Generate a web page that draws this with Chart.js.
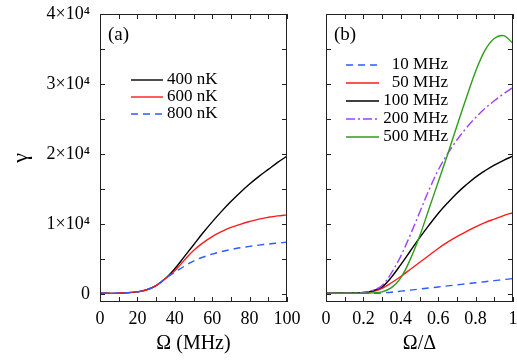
<!DOCTYPE html>
<html>
<head>
<meta charset="utf-8">
<script src="https://cdn.jsdelivr.net/npm/chart.js@4"></script>
<style>
  html, body { margin: 0; padding: 0; background: #fff; }
  #wrap { position: relative; width: 517px; height: 360px; }
  #chartA { position: absolute; left: 0; top: 0; }
  #chartB { position: absolute; left: 290px; top: 0; }
</style>
</head>
<body>
<div id="wrap">
  <canvas id="chartA" width="310" height="360"></canvas>
  <canvas id="chartB" width="227" height="360"></canvas>
</div>
<script>
// panel (a): gamma vs Omega (MHz) for three temperatures
const omegaMHz = [0, 10, 20, 25, 30, 35, 40, 45, 50, 55, 60, 65, 70, 75, 80, 85, 90, 95, 100];
const gamma400nK = [100, 100, 300, 600, 1200, 2200, 3600, 5300, 7000, 8700, 10300, 11800, 13200, 14500, 15700, 16800, 17800, 18800, 19700];
const gamma600nK = [100, 100, 300, 600, 1200, 2200, 3300, 4800, 6200, 7300, 8200, 8900, 9500, 9950, 10350, 10700, 10950, 11150, 11300];
const gamma800nK = [100, 100, 300, 600, 1200, 2200, 3100, 3950, 4700, 5250, 5700, 6050, 6350, 6600, 6800, 6980, 7130, 7270, 7400];

// panel (b): gamma vs Omega/Delta for five detunings
const omegaRatio = [0, 0.1, 0.2, 0.25, 0.3, 0.35, 0.4, 0.45, 0.5, 0.55, 0.6, 0.65, 0.7, 0.75, 0.8, 0.85, 0.9, 0.95, 1.0];
const gamma10MHz = [100, 100, 100, 100, 150, 250, 400, 550, 700, 850, 1000, 1150, 1300, 1450, 1600, 1750, 1900, 2050, 2200];
const gamma50MHz = [100, 100, 150, 350, 800, 1600, 2500, 3500, 4500, 5500, 6500, 7400, 8200, 8900, 9600, 10200, 10700, 11200, 11600];
const gamma100MHz = [100, 100, 200, 450, 1000, 2400, 4200, 6100, 8000, 9800, 11500, 13000, 14400, 15600, 16700, 17600, 18400, 19100, 19700];
const gamma200MHz = [100, 100, 200, 500, 1200, 3000, 5400, 8400, 11600, 14800, 17700, 20000, 22000, 23700, 25200, 26500, 27600, 28600, 29500];
const gamma500MHz = [100, 100, 100, 150, 300, 900, 2300, 4900, 8200, 12100, 16000, 19900, 24000, 28000, 31800, 34800, 36500, 36900, 35800];

const yTickValues = [0, 10000, 20000, 30000, 40000];
const xTickValuesA = [0, 20, 40, 60, 80, 100];
const xTickValuesB = [0, 0.2, 0.4, 0.6, 0.8, 1];

const serif = '"Liberation Serif", "Times New Roman", serif';

function toPoints(xs, ys) {
  return xs.map((x, i) => ({ x: x, y: ys[i] }));
}

function line(label, xs, ys, color, dash, order) {
  return {
    label: label,
    data: toPoints(xs, ys),
    borderColor: color,
    borderWidth: 1.4,
    borderDash: dash,
    pointRadius: 0,
    fill: false,
    tension: 0.35,
    order: order
  };
}

// frame, inward ticks, panel tag and legend
const framePlugin = {
  id: 'frame',
  afterDraw(chart, args, opts) {
    const { ctx, chartArea: a, scales: { x, y } } = chart;
    ctx.save();
    ctx.strokeStyle = '#222';
    ctx.lineWidth = 1;
    ctx.setLineDash([]);
    ctx.strokeRect(a.left + 0.5, a.top + 0.5, a.right - a.left - 1, a.bottom - a.top - 1);
    ctx.beginPath();
    for (let i = 0; i <= 10; i++) {
      const v = opts.xMin + (opts.xMax - opts.xMin) * i / 10;
      const px = Math.round(x.getPixelForValue(v)) + 0.5;
      ctx.moveTo(px, a.bottom); ctx.lineTo(px, a.bottom - 5);
      ctx.moveTo(px, a.top); ctx.lineTo(px, a.top + 5);
    }
    for (let v = 0; v <= 40000; v += 5000) {
      const py = Math.round(y.getPixelForValue(v)) + 0.5;
      ctx.moveTo(a.left, py); ctx.lineTo(a.left + 5, py);
      ctx.moveTo(a.right, py); ctx.lineTo(a.right - 5, py);
    }
    ctx.stroke();

    ctx.fillStyle = '#000';
    ctx.font = '19px ' + serif;
    ctx.textBaseline = 'middle';
    ctx.textAlign = 'left';
    ctx.fillText(opts.tag, a.left + 8, a.top + 21);

    ctx.font = '17px ' + serif;
    chart.data.datasets.forEach((ds, i) => {
      const ly = a.top + opts.legendTop + i * opts.legendStep;
      ctx.strokeStyle = ds.borderColor;
      ctx.lineWidth = 1.4;
      ctx.setLineDash(ds.borderDash || []);
      ctx.beginPath();
      ctx.moveTo(a.left + opts.lineStart, ly);
      ctx.lineTo(a.left + opts.lineStart + opts.lineLen, ly);
      ctx.stroke();
      ctx.textAlign = opts.textAlign;
      ctx.fillText(ds.label, a.left + opts.textX, ly);
    });
    ctx.restore();
  }
};

function makeOptions(xMin, xMax, xTicks, xTitle, showY, yWidth, rightPad, tagOpts) {
  return {
    responsive: false,
    animation: false,
    devicePixelRatio: 1,
    layout: { padding: { top: 14, right: rightPad, left: 0, bottom: 0 } },
    plugins: {
      legend: { display: false },
      tooltip: { enabled: false },
      frame: Object.assign({ xMin: xMin, xMax: xMax }, tagOpts)
    },
    scales: {
      x: {
        type: 'linear',
        min: xMin,
        max: xMax,
        grid: { display: false, drawTicks: false },
        border: { display: false },
        afterBuildTicks: s => { s.ticks = xTicks.map(v => ({ value: v })); },
        afterFit: s => { s.height = 58; s.paddingLeft = 0; s.paddingRight = 0; },
        ticks: {
          padding: 6,
          maxRotation: 0,
          color: '#000',
          font: { family: serif, size: 18 },
          callback: v => String(v)
        },
        title: {
          display: true,
          text: xTitle,
          color: '#000',
          font: { family: serif, size: 20 },
          padding: { top: 4, bottom: 4 }
        }
      },
      y: {
        type: 'linear',
        min: -1150,
        max: 40000,
        grid: { display: false, drawTicks: false },
        border: { display: false },
        afterBuildTicks: s => { s.ticks = yTickValues.map(v => ({ value: v })); },
        afterFit: s => { s.width = yWidth; s.paddingTop = 0; s.paddingBottom = 0; },
        ticks: {
          display: showY,
          padding: 10,
          color: '#000',
          font: { family: serif, size: 18 },
          callback: v => v === 0 ? '0' : (v / 10000) + '×10⁴'
        },
        title: {
          display: showY,
          text: 'γ',
          color: '#000',
          font: { family: serif, size: 22 },
          padding: { top: 8, bottom: 0 }
        }
      }
    }
  };
}

new Chart(document.getElementById('chartA'), {
  type: 'line',
  data: {
    datasets: [
      line('400 nK', omegaMHz, gamma400nK, '#000000', [], 2),
      line('600 nK', omegaMHz, gamma600nK, '#ff1a1a', [], 1),
      line('800 nK', omegaMHz, gamma800nK, '#2a5cff', [7, 5], 0)
    ]
  },
  options: makeOptions(0, 100, xTickValuesA, 'Ω (MHz)', true, 100, 23, {
    tag: '(a)', legendTop: 66, legendStep: 17, lineStart: 31, lineLen: 32, textX: 67, textAlign: 'left'
  }),
  plugins: [framePlugin]
});

new Chart(document.getElementById('chartB'), {
  type: 'line',
  data: {
    datasets: [
      line('10 MHz', omegaRatio, gamma10MHz, '#2a5cff', [7, 5], 4),
      line('50 MHz', omegaRatio, gamma50MHz, '#ff1a1a', [], 3),
      line('100 MHz', omegaRatio, gamma100MHz, '#000000', [], 2),
      line('200 MHz', omegaRatio, gamma200MHz, '#a040ff', [9, 3, 2, 3], 1),
      line('500 MHz', omegaRatio, gamma500MHz, '#2e9e16', [], 0)
    ]
  },
  options: makeOptions(0, 1, xTickValuesB, 'Ω/Δ', false, 36, 4, {
    tag: '(b)', legendTop: 51, legendStep: 18, lineStart: 20, lineLen: 33, textX: 122, textAlign: 'right'
  }),
  plugins: [framePlugin]
});
</script>
</body>
</html>
